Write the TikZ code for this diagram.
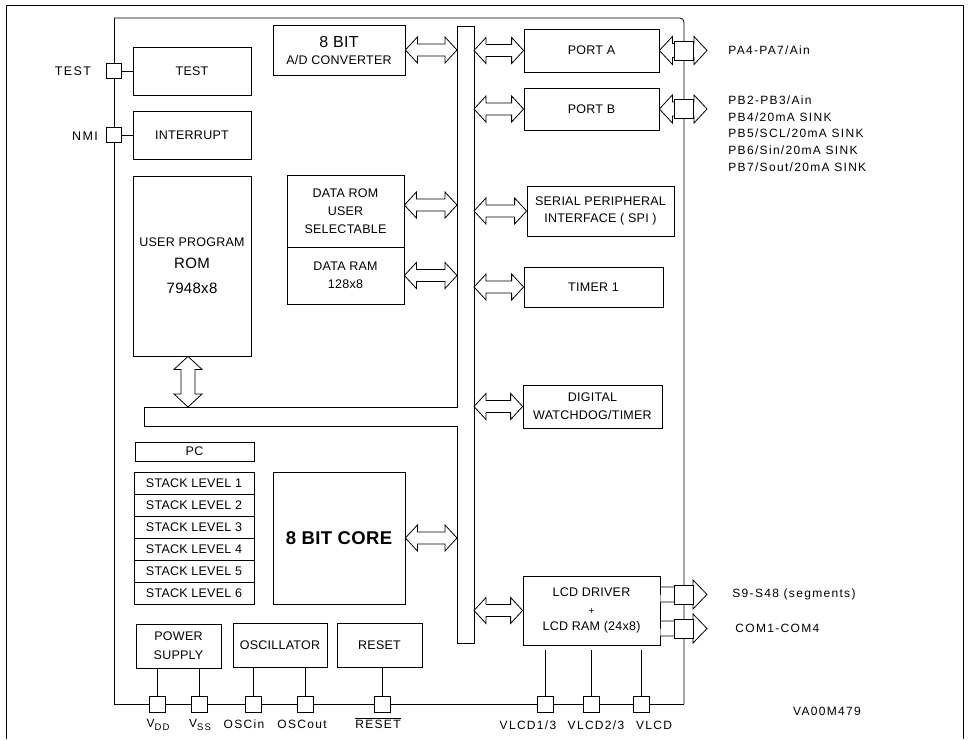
\documentclass[tikz,border=0pt]{standalone}
\usepackage{fontspec}
\setmainfont{Liberation Sans}
\newfontfamily\boxfont{Liberation Sans}[LetterSpace=2]
\newfontfamily\pinfont{Liberation Sans}[LetterSpace=11]
\usetikzlibrary{calc,positioning}

\tikzset{
  blk/.style={draw, inner sep=0pt, align=center,
    font=\boxfont\fontsize{12.5}{18}\selectfont},
  pad/.style={draw, fill=white, minimum size=16pt, inner sep=0pt},
  bigpad/.style={draw, fill=white, minimum size=19pt, inner sep=0pt},
  pinlbl/.style={inner sep=0pt, align=left,
    font=\pinfont\fontsize{12}{16.7}\selectfont},
  % hollow arrow: head half width / shaft half width / head length
  fat/.style args={#1/#2/#3}{draw, fill=white, to path={
    -- ($($(\tikztostart)!#3!(\tikztotarget)$)!#1!90:(\tikztotarget)$)
    -- ($($(\tikztostart)!#3!(\tikztotarget)$)!#2!90:(\tikztotarget)$)
    -- ($($(\tikztotarget)!#3!(\tikztostart)$)!#2!-90:(\tikztostart)$)
    -- ($($(\tikztotarget)!#3!(\tikztostart)$)!#1!-90:(\tikztostart)$)
    -- (\tikztotarget)
    -- ($($(\tikztotarget)!#3!(\tikztostart)$)!#1!90:(\tikztostart)$)
    -- ($($(\tikztotarget)!#3!(\tikztostart)$)!#2!90:(\tikztostart)$)
    -- ($($(\tikztostart)!#3!(\tikztotarget)$)!#2!-90:(\tikztotarget)$)
    -- ($($(\tikztostart)!#3!(\tikztotarget)$)!#1!-90:(\tikztotarget)$)
    -- cycle}},
  % same, one head only, open at the start
  fatout/.style args={#1/#2/#3}{draw, fill=white, to path={
    -- ($(\tikztostart)!#2!90:(\tikztotarget)$)
    -- ($($(\tikztotarget)!#3!(\tikztostart)$)!#2!-90:(\tikztostart)$)
    -- ($($(\tikztotarget)!#3!(\tikztostart)$)!#1!-90:(\tikztostart)$)
    -- (\tikztotarget)
    -- ($($(\tikztotarget)!#3!(\tikztostart)$)!#1!90:(\tikztostart)$)
    -- ($($(\tikztotarget)!#3!(\tikztostart)$)!#2!90:(\tikztostart)$)
    -- ($(\tikztostart)!#2!-90:(\tikztotarget)$)}},
  busarrow/.style={fat=13pt/6pt/12pt},
  portarrow/.style={fat=14pt/7pt/13pt},
  lcdarrow/.style={fatout=14.5pt/7.5pt/14pt},
}

\begin{document}
\begin{tikzpicture}[x=1pt, y=-1pt, line width=0.8pt]
  \useasboundingbox (0,0) rectangle (969,739);

  % frame and chip outline
  \draw (6,739) -- (6,5) -- (963,5) -- (963,739);
  \draw (114,18) -- (114,704) -- (684,704);
  \draw[rounded corners=4pt] (114,18) -- (684,18) -- (684,704);

  \coordinate (chipL) at (114,0);
  \coordinate (chipR) at (684,0);
  \coordinate (tipR) at (707,0);
  \coordinate (busL) at (457,0);
  \coordinate (busR) at (474,0);
  \coordinate (armtop) at (188,407);

  % blocks
  \node[blk, minimum width=118, minimum height=48] (test) at (192,71) {TEST};
  \node[blk, minimum width=118, minimum height=48] (intr) at (192,135) {INTERRUPT};
  \node[blk, minimum width=118, minimum height=180] (rom) at (192,266)
    {USER PROGRAM\\[4pt]{\fontsize{15}{18}\selectfont ROM}\\[7pt]{\fontsize{15}{18}\selectfont 7948x8}};
  \node[blk, minimum width=132, minimum height=50] (adc) at (339,50)
    {{\fontsize{16}{18}\selectfont 8 BIT}\\[-1pt]A/D CONVERTER};
  \node[blk, minimum width=117, minimum height=72] (dataROM) at (345.5,211) {DATA ROM\\USER\\SELECTABLE};
  \node[blk, minimum width=117, minimum height=57] (dataRAM) at (345.5,275.5) {DATA RAM\\128x8};
  \node[blk, minimum width=135, minimum height=43] (portA) at (591.5,50.5) {PORT A};
  \node[blk, minimum width=135, minimum height=42] (portB) at (591.5,109) {PORT B};
  \node[blk, minimum width=147, minimum height=50] (spi) at (600.5,211)
    {SERIAL PERIPHERAL\\[-1pt]INTERFACE ( SPI )};
  \node[blk, minimum width=139, minimum height=40] (timer) at (593.5,287) {TIMER 1};
  \node[blk, minimum width=139, minimum height=43] (wdt) at (592.5,406.5) {DIGITAL\\WATCHDOG/TIMER};
  \node[blk, minimum width=137, minimum height=69] (lcd) at (591.5,610.5)
    {LCD DRIVER\\{\fontsize{10}{10}\selectfont +}\\[-2pt]LCD RAM (24x8)};
  \node[blk, minimum width=119, minimum height=19] (pc) at (194.5,451.5) {PC};
  \foreach \k in {1,...,6}
    \node[blk, minimum width=120, minimum height=22] (stk\k) at (194,{483+22*(\k-1)}) {STACK LEVEL \k};
  \node[blk, minimum width=132, minimum height=132] (core) at (339,538)
    {\bfseries\fontsize{18.5}{20}\selectfont 8 BIT CORE};
  \node[blk, minimum width=85, minimum height=44] (power) at (178.5,646) {POWER\\[1pt]SUPPLY};
  \node[blk, minimum width=94, minimum height=44] (osc) at (280,645) {OSCILLATOR};
  \node[blk, minimum width=85, minimum height=44] (reset) at (379.5,645) {RESET};

  % bus
  \draw (457,26) -- (474,26) -- (474,643) -- (457,643) -- (457,426)
    -- (144,426) -- (144,407) -- (457,407) -- cycle;

  % bus arrows
  \draw[busarrow] (adc.east) to (busL |- adc.east);
  \coordinate (romio) at ([yshift=6pt]dataROM.east);
  \draw[busarrow] (romio) to (busL |- romio);
  \draw[busarrow] (dataRAM.east) to (busL |- dataRAM.east);
  \draw[busarrow] (core.east) to (busL |- core.east);
  \draw[portarrow] (armtop |- rom.south) to (armtop);
  \draw[busarrow] (busR |- portA.west) to (portA.west);
  \draw[busarrow] (busR |- portB.west) to (portB.west);
  \draw[busarrow] (busR |- spi.west) to (spi.west);
  \draw[busarrow] (busR |- timer.west) to (timer.west);
  \draw[busarrow] (busR |- wdt.west) to (wdt.west);
  \draw[busarrow] (busR |- lcd.west) to (lcd.west);

  % port and lcd outputs
  \draw[portarrow] (portA.east) to (tipR |- portA.east);
  \draw[portarrow] (portB.east) to (tipR |- portB.east);
  \node[bigpad] (pinA) at (chipR |- portA.east) {};
  \node[bigpad] (pinB) at (chipR |- portB.east) {};
  \coordinate (seg) at ([yshift=16pt]lcd.east);
  \coordinate (com) at ([yshift=-18pt]lcd.east);
  \draw[lcdarrow] (seg) to (tipR |- seg);
  \draw[lcdarrow] (com) to (tipR |- com);
  \node[bigpad] (pinS) at (chipR |- seg) {};
  \node[bigpad] (pinC) at (chipR |- com) {};

  % left pins
  \node[pad, minimum size=15pt] (ptest) at (chipL |- test.west) {};
  \node[pad, minimum size=15pt] (pnmi) at (chipL |- intr.west) {};
  \draw (ptest) -- (test.west);
  \draw (pnmi) -- (intr.west);
  \node[pinlbl, font=\pinfont\fontsize{12.5}{14}\selectfont] at (73,71) {TEST};
  \node[pinlbl, font=\pinfont\fontsize{12.5}{14}\selectfont] at (85,136) {NMI};

  % bottom pins
  \node[pad] (vdd) at (157,704) {};
  \node[pad] (vss) at (199,704) {};
  \node[pad] (oscin) at (253,704) {};
  \node[pad] (oscout) at (305,704) {};
  \node[pad] (rst) at (382,704) {};
  \node[pad] (vl1) at (545,704) {};
  \node[pad] (vl2) at (591,704) {};
  \node[pad] (vl3) at (641,704) {};
  \coordinate (lcdB) at ([yshift=-5pt]lcd.south);
  \draw (vdd |- power.south) -- (vdd);
  \draw (vss |- power.south) -- (vss);
  \draw (oscin |- osc.south) -- (oscin);
  \draw (oscout |- osc.south) -- (oscout);
  \draw (rst |- reset.south) -- (rst);
  \draw (vl1 |- lcdB) -- (vl1);
  \draw (vl2 |- lcdB) -- (vl2);
  \draw (vl3 |- lcdB) -- (vl3);

  % pin labels
  \node[pinlbl] at (158,725) {V\raisebox{-0.5ex}{\fontsize{9.5}{9.5}\selectfont DD}};
  \node[pinlbl] at (200,725) {V\raisebox{-0.5ex}{\fontsize{9.5}{9.5}\selectfont SS}};
  \node[pinlbl] at (244,724) {OSCin};
  \node[pinlbl] at (302,724) {OSCout};
  \node[pinlbl] at (378,723) {$\overline{\hbox{\pinfont RESET}}$};
  \node[pinlbl] at (528,725) {VLCD1/3};
  \node[pinlbl] at (596,725) {VLCD2/3};
  \node[pinlbl] at (654,725) {VLCD};
  \node[pinlbl] at (827,711) {VA00M479};
  \node[pinlbl, anchor=west] at (728,50) {PA4-PA7/Ain};
  \node[pinlbl, anchor=north west] at (728,95.5)
    {PB2-PB3/Ain\\PB4/20mA SINK\\PB5/SCL/20mA SINK\\PB6/Sin/20mA SINK\\PB7/Sout/20mA SINK};
  \node[pinlbl, anchor=west] at (732,594) {S9-S48 (segments)};
  \node[pinlbl, anchor=west] at (735,628) {COM1-COM4};
\end{tikzpicture}
\end{document}
